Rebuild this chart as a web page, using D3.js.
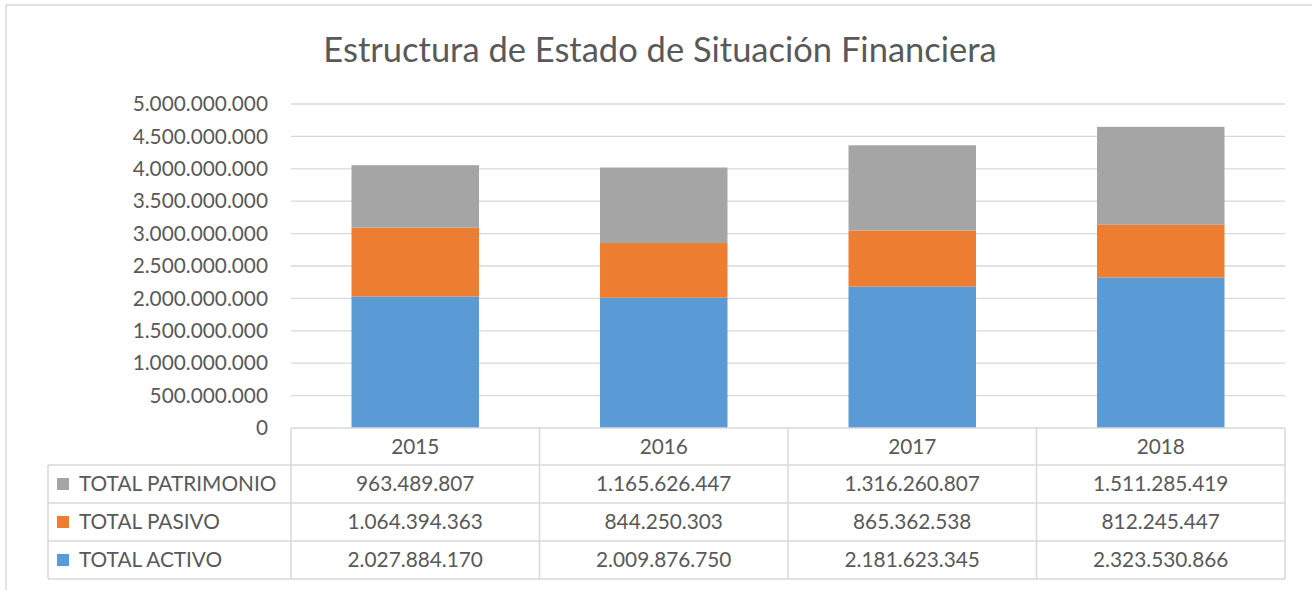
<!DOCTYPE html>
<html>
<head>
<meta charset="utf-8">
<script src="https://cdn.jsdelivr.net/npm/d3@7"></script>
<style>
  body { margin: 0; background: #fff; }
  svg { display: block; font-family: Lato, "Open Sans", sans-serif; }
</style>
</head>
<body>
<div id="chart"></div>
<script>
// Data
const years = ["2015", "2016", "2017", "2018"];
const activo = [2027884170, 2009876750, 2181623345, 2323530866];
const pasivo = [1064394363, 844250303, 865362538, 812245447];
const patrimonio = [963489807, 1165626447, 1316260807, 1511285419];
const yTicks = [0, 500000000, 1000000000, 1500000000, 2000000000, 2500000000,
  3000000000, 3500000000, 4000000000, 4500000000, 5000000000];

const series = [
  { key: "activo", name: "TOTAL ACTIVO", values: activo, color: "#5B9BD5" },
  { key: "pasivo", name: "TOTAL PASIVO", values: pasivo, color: "#ED7D31" },
  { key: "patrimonio", name: "TOTAL PATRIMONIO", values: patrimonio, color: "#A5A5A5" }
];

const W = 1312, H = 590;
const plot = { left: 291, right: 1285, top: 104, bottom: 428 };
const tableLeft = 48;
const rowH = 38, headerH = 37;

const locale = d3.formatLocale({ decimal: ",", thousands: ".", grouping: [3], currency: ["$", ""] });
const fmt = locale.format(",");

const svg = d3.select("#chart").append("svg")
  .attr("width", W)
  .attr("height", H);

// Chart border
svg.append("rect")
  .attr("x", 6).attr("y", 5)
  .attr("width", 1330).attr("height", 620)
  .attr("fill", "none")
  .attr("stroke", "#D9D9D9")
  .attr("stroke-width", 1.5);

// Title
svg.append("text")
  .attr("x", 660)
  .attr("y", 62)
  .attr("text-anchor", "middle")
  .style("font-size", "34.5px")
  .style("fill", "#595959")
  .text("Estructura de Estado de Situación Financiera");

// Scales
const x = d3.scaleBand()
  .domain(years)
  .range([plot.left, plot.right]);

const y = d3.scaleLinear()
  .domain([0, 5000000000])
  .range([plot.bottom, plot.top]);

// Gridlines
svg.append("g")
  .selectAll("line")
  .data(yTicks.slice(1))
  .join("line")
  .attr("x1", plot.left)
  .attr("x2", plot.right)
  .attr("y1", d => y(d))
  .attr("y2", d => y(d))
  .attr("stroke", "#D9D9D9")
  .attr("stroke-width", 1.3);

// Y axis labels
const yAxis = svg.append("g")
  .attr("transform", `translate(${plot.left},0)`)
  .call(d3.axisLeft(y).tickValues(yTicks).tickFormat(fmt).tickSize(0).tickPadding(23));
yAxis.select(".domain").remove();
yAxis.selectAll("text")
  .style("font-size", "20.8px")
  .style("font-family", "Lato, 'Open Sans', sans-serif")
  .style("fill", "#595959");

// Stacked bars
const rows = years.map((yr, i) => {
  const r = { year: yr };
  series.forEach(s => r[s.key] = s.values[i]);
  return r;
});
const stacked = d3.stack().keys(series.map(s => s.key))(rows);
const barW = x.bandwidth() * 0.513;

svg.append("g")
  .selectAll("g")
  .data(stacked)
  .join("g")
  .attr("fill", (d, i) => series[i].color)
  .selectAll("rect")
  .data(d => d)
  .join("rect")
  .attr("x", d => x(d.data.year) + (x.bandwidth() - barW) / 2)
  .attr("y", d => y(d[1]))
  .attr("width", barW)
  .attr("height", d => y(d[0]) - y(d[1]));

// Data table
const table = svg.append("g");
const lineColor = "#D9D9D9";
const tableRows = series.slice().reverse();
const tableBottom = plot.bottom + headerH + rowH * tableRows.length;

// Horizontal lines
table.append("line")
  .attr("x1", plot.left).attr("x2", plot.right)
  .attr("y1", plot.bottom).attr("y2", plot.bottom)
  .attr("stroke", lineColor).attr("stroke-width", 1.5);
for (let i = 0; i <= tableRows.length; i++) {
  const yy = plot.bottom + headerH + rowH * i;
  table.append("line")
    .attr("x1", tableLeft).attr("x2", plot.right)
    .attr("y1", yy).attr("y2", yy)
    .attr("stroke", lineColor).attr("stroke-width", 1.5);
}
// Vertical lines
table.append("line")
  .attr("x1", tableLeft).attr("x2", tableLeft)
  .attr("y1", plot.bottom + headerH).attr("y2", tableBottom)
  .attr("stroke", lineColor).attr("stroke-width", 1.5);
years.concat(["end"]).forEach((yr, i) => {
  const xx = i < years.length ? x(yr) : plot.right;
  table.append("line")
    .attr("x1", xx).attr("x2", xx)
    .attr("y1", plot.bottom).attr("y2", tableBottom)
    .attr("stroke", lineColor).attr("stroke-width", 1.5);
});

// Header (years)
table.selectAll("text.year")
  .data(years)
  .join("text")
  .attr("class", "year")
  .attr("x", d => x(d) + x.bandwidth() / 2)
  .attr("y", plot.bottom + headerH / 2 + 7)
  .attr("text-anchor", "middle")
  .style("font-size", "20.8px")
  .style("fill", "#595959")
  .text(d => d);

// Rows
tableRows.forEach((s, r) => {
  const top = plot.bottom + headerH + rowH * r;
  table.append("rect")
    .attr("x", 57).attr("y", top + rowH / 2 - 6)
    .attr("width", 12).attr("height", 12)
    .attr("fill", s.color);
  table.append("text")
    .attr("x", 79)
    .attr("y", top + rowH / 2 + 7)
    .style("font-size", "20.8px")
    .style("fill", "#595959")
    .text(s.name);
  table.selectAll(null)
    .data(s.values)
    .join("text")
    .attr("x", (d, i) => x(years[i]) + x.bandwidth() / 2)
    .attr("y", top + rowH / 2 + 7)
    .attr("text-anchor", "middle")
    .style("font-size", "20.8px")
    .style("fill", "#595959")
    .text(d => fmt(d));
});
</script>
</body>
</html>
